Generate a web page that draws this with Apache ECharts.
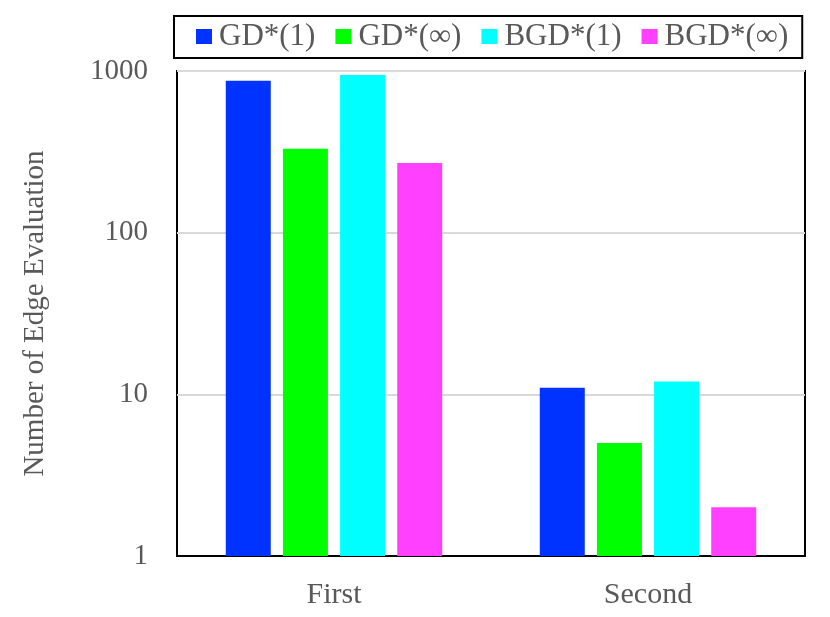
<!DOCTYPE html>
<html>
<head>
<meta charset="utf-8">
<script src="https://cdn.jsdelivr.net/npm/echarts@6/dist/echarts.min.js"></script>
<style>
  html, body { margin: 0; padding: 0; background: #fff; }
  #chart { width: 830px; height: 617px; }
</style>
</head>
<body>
<div id="chart"></div>
<script>
const categories = ['First', 'Second'];
const seriesNames = ['GD*(1)', 'GD*(\u221e)', 'BGD*(1)', 'BGD*(\u221e)'];
const gd1 = [870, 11];
const gdInf = [330, 5];
const bgd1 = [945, 12];
const bgdInf = [270, 2];
const colors = ['#0033ff', '#00ff00', '#00ffff', '#ff40ff'];

const font = 'Liberation Serif, Times New Roman, serif';
const grey = '#595959';

const myChart = echarts.init(document.getElementById('chart'));

const values = [gd1, gdInf, bgd1, bgdInf];

myChart.setOption({
  animation: false,
  textStyle: { fontFamily: font },
  legend: {
    data: seriesNames,
    left: 174,
    top: 16,
    padding: [5, 14, 6, 22],
    borderColor: '#000',
    borderWidth: 2,
    itemWidth: 16,
    itemHeight: 15,
    itemGap: 20,
    icon: 'rect',
    textStyle: { fontFamily: font, fontSize: 31, color: grey, padding: [0, 0, 0, 2] }
  },
  grid: {
    left: 177,
    right: 25,
    top: 71,
    bottom: 61,
    show: true,
    borderColor: '#000',
    borderWidth: 2
  },
  xAxis: {
    type: 'category',
    data: categories,
    axisTick: { show: false },
    axisLine: { lineStyle: { color: '#000', width: 2 } },
    axisLabel: { fontFamily: font, fontSize: 30, color: grey, margin: 24 }
  },
  yAxis: {
    type: 'log',
    logBase: 10,
    min: 1,
    max: 1000,
    name: 'Number of Edge Evaluation',
    nameLocation: 'middle',
    nameGap: 127,
    nameTextStyle: { fontFamily: font, fontSize: 29, color: grey },
    axisLine: { show: false },
    axisTick: { show: false },
    axisLabel: {
      fontFamily: font, fontSize: 29, color: grey, margin: 29,
      formatter: v => String(Math.round(v))
    },
    splitLine: { lineStyle: { color: '#d9d9d9', width: 2 } }
  },
  series: seriesNames.map((name, i) => ({
    name: name,
    type: 'bar',
    data: values[i],
    barWidth: 45,
    barGap: '27%',
    itemStyle: { color: colors[i] }
  }))
});
</script>
</body>
</html>
